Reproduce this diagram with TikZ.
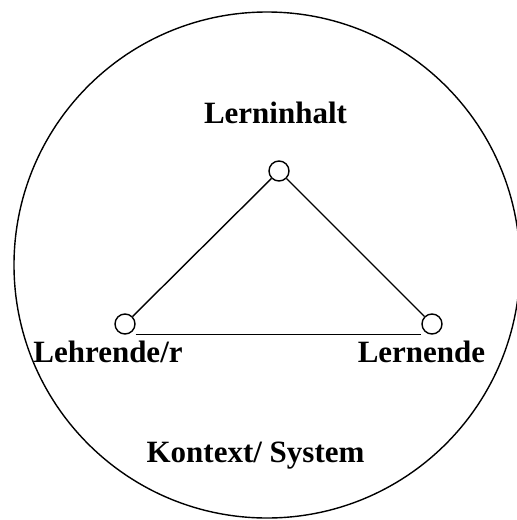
\documentclass[tikz,border=0pt]{standalone}
\usepackage{fontspec}
\setmainfont{Liberation Serif}
\begin{document}
\begin{tikzpicture}[x=0.5pt,y=-0.5pt,
    Vertex/.style={circle,draw,line width=0.7pt,minimum size=10pt,inner sep=0pt},
    Label/.style={anchor=base,inner sep=0pt,font=\bfseries\fontsize{15.5}{18}\selectfont},
    line width=0.7pt]
                \useasboundingbox (0,0) rectangle (517,520);

                \coordinate (ContextCenter) at (267,265);
                \draw (ContextCenter) circle[radius=126.5pt];

                \node[Vertex] (TopVertex) at (279,171) {};
                \node[Vertex] (LeftVertex) at (125,324) {};
                \node[Vertex] (RightVertex) at (432,324) {};

                \draw (TopVertex)--(LeftVertex);
                \draw (TopVertex)--(RightVertex);
                \draw (LeftVertex.south -| LeftVertex.east)--(RightVertex.south -| RightVertex.west);

                \node[Label] (LerninhaltLabel) at (275.5,123) {Lerninhalt};
                \node[Label] (LehrendeLabel) at (108,362) {Lehrende/r};
                \node[Label] (LernendeLabel) at (421.5,362) {Lernende};
                \node[Label] (KontextLabel) at (255.5,462) {Kontext/ System};
            \end{tikzpicture}
\end{document}
